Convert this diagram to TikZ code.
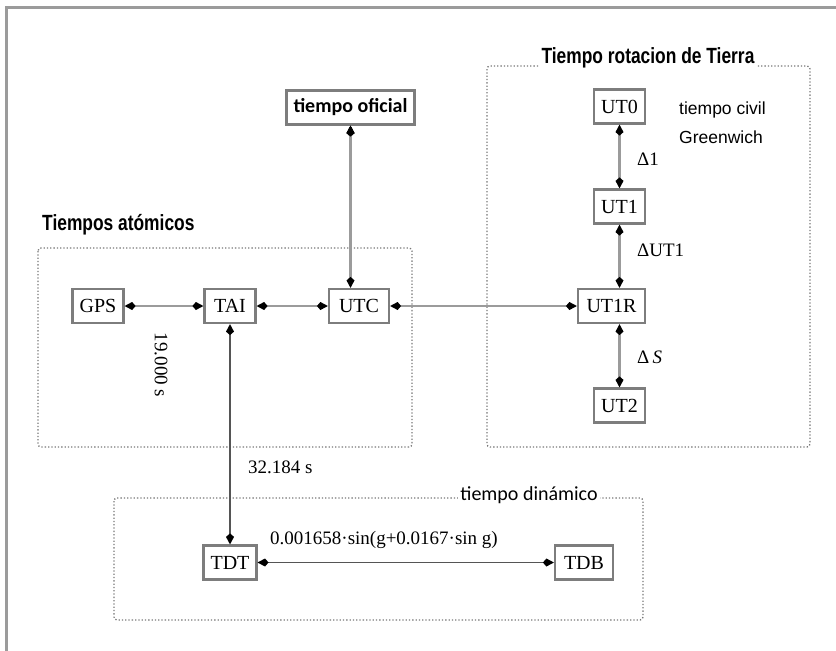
\documentclass[tikz,border=0pt]{standalone}
\usepackage{fontspec}
\usepackage{tikz}
\usetikzlibrary{arrows.meta}
\setmainfont{Liberation Serif}
\newfontfamily\narrowsans[FakeStretch=0.79]{Liberation Sans}
\newfontfamily\plainsans{Liberation Sans}
\newfontfamily\calsans{Carlito}
\definecolor{boxgray}{RGB}{125,125,125}
\definecolor{linegray}{RGB}{155,155,155}
\definecolor{dotgray}{RGB}{120,120,120}
\definecolor{darkline}{RGB}{85,85,85}

\begin{document}
\begin{tikzpicture}[x=1pt,y=-1pt,
        timebox/.style={draw=boxgray, line width=2.2pt, minimum height=34pt, minimum width=51pt, inner xsep=7pt, font=\fontsize{20}{23}\selectfont},
        grouptitle/.style={font=\narrowsans\bfseries\fontsize{22}{26}\selectfont, inner sep=2pt},
        serifnote/.style={font=\fontsize{19}{22}\selectfont, inner sep=1pt},
        link/.style={<->, draw=linegray, line width=2.6pt, >={Kite[length=11pt,width=8pt,inset=3.5pt,color=black]}},
        darklink/.style={<->, draw=darkline, line width=1.6pt, >={Kite[length=11pt,width=8pt,inset=3.5pt,color=black]}}]
        \useasboundingbox (0,0) rectangle (836,651);
        \draw[line width=3pt, linegray] (836,7) -- (6,7) -- (6,651);

        \begin{scope}[dotted, draw=dotgray, line width=1.3pt, rounded corners=3pt]
                \draw (38,248) rectangle (412,447);
                \draw (487,66) rectangle (810,447);
                \draw (114,498) rectangle (643,620);
        \end{scope}

        \node[grouptitle, anchor=base west] (atomT) at (40,230) {Tiempos atómicos};
        \node[grouptitle, anchor=base, fill=white] (rotT) at (648,63) {Tiempo rotacion de Tierra};
        \node[font=\calsans\fontsize{20}{24}\selectfont, anchor=base, fill=white, inner sep=2pt] (dinT) at (529,500) {tiempo dinámico};

        \begin{scope}[every node/.style={timebox}]
                \node (GPS) at (98,306) {GPS};
                \node (TAI) at (230,306) {TAI};
                \node[minimum width=60pt] (UTC) at (359,306) {UTC};
                \node[minimum width=67pt] (UT1R) at (611.5,306) {UT1R};
                \node (UT0) at (619.5,106.5) {UT0};
                \node (UT1) at (619.5,206.5) {UT1};
                \node (UT2) at (619.5,405.5) {UT2};
                \node (TDT) at (230,562.5) {TDT};
                \node[minimum width=58pt] (TDB) at (584,562.5) {TDB};
                \node[minimum width=125pt, font=\calsans\bfseries\fontsize{20}{24}\selectfont] (ofic) at (350.5,107.5) {tiempo oficial};
        \end{scope}

        \begin{scope}[every node/.style={serifnote}]
                \node[rotate=-90] (gpsoff) at (161,365) {19.000 s};
                \node[anchor=west] (taioff) at (247,467) {32.184 s};
                \node[anchor=west] (dlt1) at (636,159) {Δ1};
                \node[anchor=west] (dltut) at (636,250) {ΔUT1};
                \node[anchor=west] (dlts) at (636,357) {Δ\,\textit{S}};
                \node[anchor=west] (tdbform) at (269,540) {0.001658·sin(g+0.0167·sin g)};
        \end{scope}
        \node[anchor=west, font=\plainsans\fontsize{17.5}{21}\selectfont, inner sep=1pt] (civil) at (678,110) {tiempo civil};
        \node[anchor=west, font=\plainsans\fontsize{17.5}{21}\selectfont, inner sep=1pt] (grnw) at (678,137) {Greenwich};

        \begin{scope}[every path/.style={link}]
                \path (GPS) edge (TAI);
                \path (TAI) edge (UTC);
                \path (UTC) edge (UT1R);
                \path (ofic.south) edge (ofic.south |- UTC.north);
                \path (UT0) edge (UT1);
                \path (UT1) edge (UT1.south |- UT1R.north);
                \path (UT2) edge (UT2.north |- UT1R.south);
        \end{scope}
        \begin{scope}[every path/.style={darklink}]
                \path (TAI) edge (TDT);
                \path (TDT) edge (TDB);
        \end{scope}
\end{tikzpicture}
\end{document}
